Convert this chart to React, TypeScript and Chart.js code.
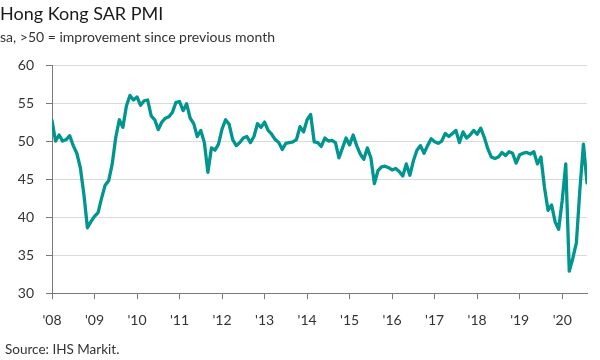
import { useEffect, useRef } from "react";
import { Chart, registerables } from "chart.js";

Chart.register(...registerables);

const TITLE = "Hong Kong SAR PMI";
const SUBTITLE = "sa, >50 = improvement since previous month";
const SOURCE = "Source: IHS Markit.";

const YEAR_LABELS = ["'08", "'09", "'10", "'11", "'12", "'13", "'14", "'15", "'16", "'17", "'18", "'19", "'20"];
const MONTHS_PER_YEAR = 12;

const Y_MIN = 30;
const Y_MAX = 60;
const Y_STEP = 5;

// Monthly PMI readings, first point at the '08 tick
const PMI = [
  52.7, 50.0, 50.8, 50.0, 50.2, 50.7, 49.4, 48.4, 46.5, 43.0, 38.6, 39.4,
  40.1, 40.6, 42.5, 44.2, 44.8, 47.0, 50.5, 52.8, 51.8, 54.6, 56.0, 55.4,
  55.8, 54.7, 55.3, 55.4, 53.3, 52.8, 51.5, 52.5, 53.0, 53.2, 53.8, 55.1,
  55.2, 54.0, 54.9, 53.0, 52.3, 50.6, 51.4, 49.8, 45.9, 49.1, 48.8, 49.6,
  51.6, 52.8, 52.2, 50.2, 49.4, 49.8, 50.4, 50.6, 49.8, 50.6, 52.3, 51.8,
  52.5, 51.4, 50.9, 50.2, 49.8, 48.9, 49.7, 49.8, 49.9, 50.2, 51.9, 51.2,
  52.8, 53.5, 49.9, 49.8, 49.3, 50.4, 50.0, 50.1, 49.8, 47.8, 49.1, 50.4,
  49.5, 50.8, 49.4, 48.3, 47.6, 49.1, 47.8, 44.4, 46.1, 46.6, 46.7, 46.5,
  46.2, 46.4, 46.0, 45.4, 47.0, 45.5, 47.4, 48.8, 49.4, 48.4, 49.4, 50.3,
  49.9, 49.7, 50.0, 51.0, 50.6, 51.0, 51.4, 49.8, 51.2, 50.4, 50.8, 51.4,
  50.9, 51.7, 50.5, 49.0, 47.9, 47.7, 47.9, 48.5, 48.1, 48.6, 48.4, 47.1,
  48.2, 48.4, 48.5, 48.3, 48.6, 47.0, 47.9, 43.9, 40.9, 41.6, 39.4, 38.4,
  42.2, 47.0, 32.9, 34.6, 36.6, 43.7, 49.6, 44.5,
];

const FONT = "Lato";
const LINE_COLOR = "#00958f";
const AXIS_COLOR = "#7a7a7a";
const GRID_COLOR = "#d9d9d9";
const TEXT_COLOR = "#333333";

export default function App() {
  const ref = useRef<HTMLCanvasElement>(null);

  useEffect(() => {
    if (!ref.current) return;
    const sourcePlugin = {
      id: "sourceNote",
      afterDraw(chart: any) {
        const ctx = chart.ctx;
        ctx.save();
        ctx.font = `13.5px ${FONT}`;
        ctx.fillStyle = TEXT_COLOR;
        ctx.textBaseline = "middle";
        ctx.textAlign = "left";
        ctx.fillText(SOURCE, 5, 350);
        ctx.restore();
      },
    };

    const chart = new Chart(ref.current, {
      type: "line",
      data: {
        datasets: [
          {
            data: PMI.map((v, i) => ({ x: i, y: v })),
            borderColor: LINE_COLOR,
            borderWidth: 3.3,
            pointRadius: 0,
            tension: 0,
            borderJoinStyle: "round",
            borderCapStyle: "round",
          },
        ],
      },
      options: {
        responsive: false,
        animation: false,
        layout: { padding: { left: 0, right: 13, top: 0, bottom: 18 } },
        plugins: {
          legend: { display: false },
          tooltip: { enabled: false },
          title: {
            display: true,
            text: TITLE,
            align: "start",
            color: "#1a1a1a",
            font: { family: FONT, size: 18, weight: "normal" },
            padding: { top: 3, bottom: 2 },
          },
          subtitle: {
            display: true,
            text: SUBTITLE,
            align: "start",
            color: TEXT_COLOR,
            font: { family: FONT, size: 14, weight: "normal" },
            padding: { top: 2, bottom: 19.6 },
          },
        },
        scales: {
          x: {
            type: "linear",
            min: 0,
            max: PMI.length - 1,
            afterBuildTicks: (axis: any) => {
              axis.ticks = YEAR_LABELS.map((_, i) => ({ value: i * MONTHS_PER_YEAR }));
            },
            ticks: {
              autoSkip: false,
              maxRotation: 0,
              padding: 13,
              color: TEXT_COLOR,
              font: { family: FONT, size: 14 },
              callback: (v: any) => YEAR_LABELS[Math.round(Number(v) / MONTHS_PER_YEAR)] ?? "",
            },
            grid: { drawOnChartArea: false, tickLength: 6, color: AXIS_COLOR },
            border: { color: AXIS_COLOR, width: 1 },
          },
          y: {
            min: Y_MIN,
            max: Y_MAX,
            afterFit: (s: any) => {
              s.width = 52;
            },
            ticks: {
              stepSize: Y_STEP,
              padding: 12,
              color: TEXT_COLOR,
              font: { family: FONT, size: 14 },
            },
            grid: { color: GRID_COLOR, tickColor: AXIS_COLOR, tickLength: 6 },
            border: { color: AXIS_COLOR, width: 1 },
          },
        },
      },
      plugins: [sourcePlugin],
    } as any);

    return () => chart.destroy();
  }, []);

  return (
    <div style={{ position: "absolute", left: 0, top: 0, width: 600, height: 360, background: "#fff" }}>
      <canvas ref={ref} width={600} height={360} style={{ display: "block" }} />
    </div>
  );
}
